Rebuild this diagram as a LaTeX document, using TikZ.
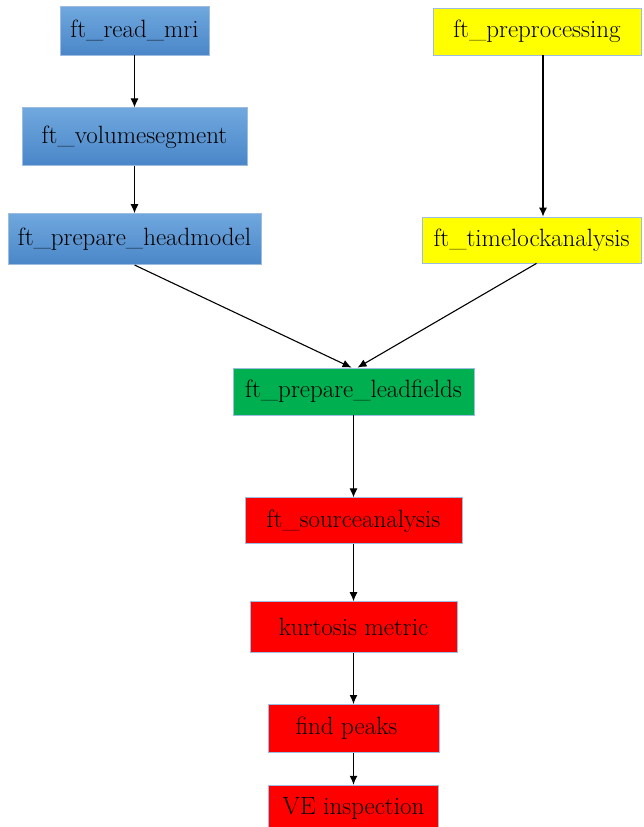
\documentclass[tikz,border=0pt]{standalone}
\usepackage{tikz}
\usetikzlibrary{positioning}
\usetikzlibrary{arrows.meta}

\definecolor{mriblue}{HTML}{4A86C8}
\definecolor{mrilight}{HTML}{70A8DE}
\definecolor{edgeblue}{HTML}{9DBCE0}
\definecolor{megyellow}{HTML}{FFFF00}
\definecolor{lfgreen}{HTML}{00B050}
\definecolor{srcred}{HTML}{FF0000}

\begin{document}
\begin{tikzpicture}[
  x=1pt, y=-1pt,
  font=\fontsize{25}{29}\selectfont,
  stage/.style={draw=edgeblue, line width=0.8pt, align=center, inner sep=3pt},
  mri/.style={stage, top color=mrilight, bottom color=mriblue},
  meg/.style={stage, fill=megyellow},
  lead/.style={stage, fill=lfgreen},
  src/.style={stage, fill=srcred},
  arrow/.style={-{Latex[length=9pt,width=8pt]}, line width=1.1pt}
]
\useasboundingbox (0,0) rectangle (643,827);

% --- Anatomy pipeline (left column) ----------------------------------------
\node[mri, minimum width=149pt, minimum height=49pt] (rmri) at (134.5,30.5) {ft\_read\_mri};
\node[mri, minimum width=225pt, minimum height=58pt, below=52pt of rmri] (vseg) {ft\_volumesegment};
\node[mri, minimum width=253pt, minimum height=51pt, below=47pt of vseg] (hdm) {ft\_prepare\_headmodel};

% --- Data pipeline (right column) -------------------------------------------
\node[meg, minimum width=208pt, minimum height=47pt] (prep) at (537,31.5) {ft\_preprocessing};
\node[meg, minimum width=219pt, minimum height=46pt] (tlock) at (531.5,240) {ft\_timelockanalysis};

% --- Source stage ----------------------------------------------------------
\node[lead, minimum width=241pt, minimum height=47pt] (lf) at (353.5,391.5) {ft\_prepare\_leadfields};
\node[src, minimum width=217pt, minimum height=46pt, below=82pt of lf] (srca) {ft\_sourceanalysis};
\node[src, minimum width=207pt, minimum height=51pt, below=57pt of srca] (kurt) {kurtosis metric};
\node[src, minimum width=171pt, minimum height=48pt, below=51pt of kurt] (peaks) {find peaks\hspace{14pt}};
\node[src, minimum width=170pt, minimum height=46pt, below=32pt of peaks] (vei) {VE inspection};

% --- Arrows -------------------------------------------------------------------
\draw[arrow] (rmri) -- (vseg);
\draw[arrow] (vseg) -- (hdm);
\draw[arrow] ([xshift=6pt]prep.south) -- ([xshift=6pt]prep.south |- tlock.north);

\draw[arrow] (hdm.south) -- ([xshift=-2pt]lf.north);
\draw[arrow] ([xshift=5pt]tlock.south) -- ([xshift=4pt]lf.north);

\draw[arrow] (lf) -- (srca);
\draw[arrow] (srca) -- (kurt);
\draw[arrow] (kurt) -- (peaks);
\draw[arrow] (peaks) -- (vei);

\end{tikzpicture}
\end{document}
